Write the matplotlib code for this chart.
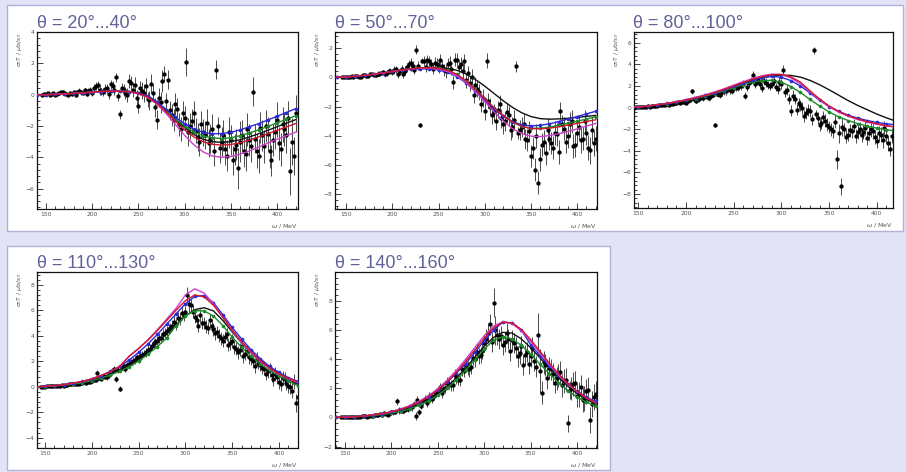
import numpy as np
import matplotlib
matplotlib.use("Agg")
import matplotlib.pyplot as plt
from matplotlib.patches import Rectangle
from matplotlib.ticker import MultipleLocator

W, H = 906, 472

# ---- measured data: photon energy (MeV) and sigma_0 T (mub/sr), two interleaved bin sets ----
omega_a = [146, 150, 154, 158, 162, 166, 170, 174, 178, 182,
           186, 190, 194, 198, 202, 206, 210, 214, 218, 222,
           226, 230, 234, 238, 242, 246, 250, 254, 258, 262,
           266, 270, 274, 278, 282, 286, 290, 294, 298, 302,
           306, 310, 314, 318, 322, 326, 330, 334, 338, 342,
           346, 350, 354, 358, 362, 366, 370, 374, 378, 382,
           386, 390, 394, 398, 402, 406, 410, 414, 418]
omega_b = [148, 152, 156, 160, 164, 168, 172, 176, 180, 184,
           188, 192, 196, 200, 204, 208, 212, 216, 220, 224,
           228, 232, 236, 240, 244, 248, 252, 256, 260, 264,
           268, 272, 276, 280, 284, 288, 292, 296, 300, 304,
           308, 312, 316, 320, 324, 328, 332, 336, 340, 344,
           348, 352, 356, 360, 364, 368, 372, 376, 380, 384,
           388, 392, 396, 400, 404, 408, 412, 416, 420]

data_20_40_a = [0.00, 0.05, -0.02, 0.10, 0.05, 0.15, 0.10, -0.05, 0.05, 0.00,
                0.25, 0.10, 0.05, 0.30, 0.45, 0.60, 0.20, 0.35, 0.05, 0.55,
                1.10, -1.25, 0.30, 0.00, 0.75, 0.60, -0.70, 0.25, 0.55, -0.35,
                0.10, -1.60, -0.50, 1.30, 0.95, -1.30, -0.60, -1.90, -1.20, 2.10,
                -2.00, -1.20, -2.70, -1.90, -2.60, -3.10, -2.20, 1.60, -3.40, -2.60,
                -3.90, -2.90, -3.50, -4.70, -2.60, -3.80, -2.90, 0.20, -3.60, -2.10,
                -3.30, -2.50, -4.20, -2.40, -3.10, -1.90, -2.60, -4.90, -3.90]
data_20_40_b = [0.02, 0.08, 0.05, 0.00, 0.12, 0.20, 0.05, 0.10, 0.15, 0.20,
                0.15, 0.30, 0.25, 0.10, 0.55, 0.30, 0.15, 0.40, 0.65, 0.30,
                -0.10, 0.45, 0.10, 0.85, 0.30, -0.20, 0.40, 0.10, -0.30, 0.70,
                -0.80, -0.20, 0.90, -0.40, -1.00, -1.60, -0.90, -2.20, -1.50, -2.40,
                -1.70, -2.30, -3.00, -2.40, -1.80, -2.80, -3.60, -2.00, -3.00, -3.50,
                -2.40, -4.20, -3.20, -3.00, -3.60, -2.20, -3.30, -2.80, -3.90, -2.60,
                -2.00, -3.60, -2.90, -1.60, -3.50, -2.20, -1.50, -3.00, -1.20]
err_20_40 = [0.08, 0.08, 0.08, 0.10, 0.10, 0.10, 0.10, 0.12, 0.12, 0.12,
             0.15, 0.15, 0.15, 0.20, 0.25, 0.30, 0.25, 0.30, 0.30, 0.35,
             0.30, 0.30, 0.40, 0.45, 0.45, 0.50, 0.45, 0.55, 0.50, 0.60,
             0.60, 0.60, 0.70, 0.50, 0.60, 0.70, 0.70, 0.75, 0.80, 0.90,
             0.80, 0.80, 0.90, 0.85, 0.90, 0.90, 0.95, 0.60, 0.95, 1.00,
             1.00, 0.95, 1.00, 1.30, 1.00, 1.05, 1.00, 0.90, 1.10, 1.00,
             1.05, 1.10, 1.00, 1.10, 1.05, 1.10, 1.10, 1.50, 1.20]

data_50_70_a = [0.00, 0.02, 0.05, 0.00, 0.10, 0.05, 0.15, 0.10, 0.20, 0.15,
                0.25, 0.35, 0.30, 0.40, 0.50, 0.20, 0.60, 0.45, 0.90, 0.80,
                1.90, -3.25, 1.10, 1.20, 0.90, 1.00, 0.70, 0.80, 0.40, 1.00,
                -0.35, 1.20, 0.90, 1.10, 0.30, 0.00, -0.50, -1.00, -1.40, 1.15,
                -2.00, -2.40, -2.20, -2.80, -3.00, -2.60, -3.40, 0.75, -3.60, -3.20,
                -4.30, -5.40, -6.30, -7.20, -4.60, -5.20, -4.20, -4.80, -3.90, -2.30,
                -3.50, -4.00, -3.00, -4.60, -3.40, -4.20, -3.80, -5.00, -4.50]
data_50_70_b = [0.03, 0.00, 0.08, 0.12, 0.05, 0.18, 0.10, 0.22, 0.15, 0.25,
                0.30, 0.20, 0.45, 0.35, 0.55, 0.40, 0.20, 0.70, 1.00, 0.50,
                0.80, 1.15, 0.70, 1.10, 0.60, 0.90, 1.20, 0.50, 0.90, 0.60,
                1.20, 0.70, 0.40, -0.20, -0.40, -1.20, -0.80, -1.80, -2.30, -1.60,
                -2.60, -3.00, -1.80, -3.20, -2.40, -3.60, -2.90, -3.80, -3.40, -4.20,
                -3.70, -4.80, -4.00, -5.60, -4.40, -3.60, -4.50, -3.80, -5.10, -3.20,
                -4.40, -3.20, -4.70, -3.80, -4.30, -3.00, -4.80, -3.60, -4.20]
err_50_70 = [0.08, 0.08, 0.08, 0.10, 0.10, 0.10, 0.12, 0.12, 0.12, 0.15,
             0.15, 0.15, 0.20, 0.20, 0.25, 0.25, 0.25, 0.30, 0.30, 0.30,
             0.30, 0.15, 0.35, 0.35, 0.35, 0.40, 0.40, 0.40, 0.45, 0.45,
             0.45, 0.45, 0.50, 0.50, 0.50, 0.55, 0.55, 0.55, 0.60, 0.50,
             0.60, 0.60, 0.60, 0.65, 0.65, 0.65, 0.70, 0.40, 0.70, 0.70,
             0.75, 0.75, 0.80, 0.80, 0.80, 0.80, 0.75, 0.80, 0.80, 0.60,
             0.80, 0.85, 0.80, 0.85, 0.85, 0.80, 0.85, 0.90, 0.85]

data_80_100_a = [0.00, 0.02, 0.05, 0.05, 0.10, 0.12, 0.15, 0.20, 0.25, 0.25,
                 0.35, 0.40, 0.40, 0.50, 0.60, 1.50, 0.60, 0.80, 0.90, 1.00,
                 1.10, -1.60, 1.30, 1.40, 1.50, 1.60, 1.80, 1.90, 2.00, 1.10,
                 2.30, 3.00, 2.40, 2.20, 2.50, 2.10, 2.20, 1.90, 2.40, 3.50,
                 1.60, -0.30, 0.80, 0.40, 0.00, -0.50, -0.30, 5.30, -1.00, -1.40,
                 -1.20, -1.80, -2.20, -4.80, -7.30, -2.00, -2.50, -2.20, -2.60, -2.00,
                 -2.30, -2.80, -2.00, -2.70, -2.40, -3.00, -2.60, -3.80, -2.90]
data_80_100_b = [0.02, 0.06, 0.08, 0.12, 0.15, 0.18, 0.22, 0.28, 0.30, 0.35,
                 0.40, 0.50, 0.55, 0.45, 0.70, 0.80, 0.75, 0.95, 1.10, 0.90,
                 1.20, 1.30, 1.15, 1.50, 1.70, 1.55, 1.80, 2.00, 2.20, 1.90,
                 2.50, 2.20, 2.60, 1.80, 2.30, 2.00, 2.50, 1.70, 2.20, 1.40,
                 0.80, 1.10, -0.20, 0.20, -0.80, -0.20, -1.10, -0.60, -1.60, -0.90,
                 -1.60, -2.00, -1.30, -2.40, -1.80, -2.70, -2.10, -1.70, -2.30, -2.50,
                 -1.90, -2.40, -2.20, -3.10, -2.50, -1.90, -3.30, -2.60, -3.00]
err_80_100 = [0.08, 0.08, 0.08, 0.10, 0.10, 0.10, 0.10, 0.12, 0.12, 0.12,
              0.15, 0.15, 0.15, 0.20, 0.20, 0.25, 0.20, 0.25, 0.25, 0.25,
              0.25, 0.20, 0.30, 0.30, 0.30, 0.30, 0.30, 0.35, 0.35, 0.35,
              0.35, 0.35, 0.35, 0.40, 0.40, 0.40, 0.40, 0.40, 0.45, 0.40,
              0.45, 0.50, 0.50, 0.50, 0.55, 0.55, 0.55, 0.35, 0.55, 0.55,
              0.60, 0.60, 0.60, 0.90, 0.80, 0.60, 0.60, 0.60, 0.65, 0.65,
              0.65, 0.65, 0.70, 0.65, 0.70, 0.70, 0.70, 0.70, 0.75]

data_110_130_a = [0.00, 0.02, 0.05, 0.05, 0.05, 0.10, 0.10, 0.15, 0.20, 0.25,
                  0.25, 0.30, 0.30, 0.35, 0.50, 1.10, 0.60, 0.80, 0.90, 1.20,
                  0.60, -0.15, 1.60, 1.70, 1.90, 2.10, 2.20, 2.50, 2.70, 3.00,
                  3.40, 3.60, 3.80, 4.20, 4.50, 4.80, 4.90, 5.30, 5.60, 7.20,
                  6.40, 5.50, 4.80, 5.00, 4.70, 5.20, 4.50, 4.30, 3.80, 3.90,
                  3.30, 3.60, 3.00, 2.90, 2.40, 2.80, 2.20, 1.60, 1.90, 1.50,
                  1.00, 1.30, 0.60, 0.80, 0.20, 0.60, 0.10, -0.30, -1.30]
data_110_130_b = [0.02, 0.03, 0.06, 0.08, 0.10, 0.12, 0.15, 0.18, 0.22, 0.25,
                  0.30, 0.35, 0.40, 0.45, 0.55, 0.70, 0.85, 0.75, 1.10, 1.40,
                  1.30, 1.50, 1.40, 1.80, 2.00, 2.30, 2.40, 2.60, 2.90, 3.20,
                  3.50, 3.80, 4.10, 4.40, 4.60, 5.10, 5.40, 5.80, 5.90, 6.50,
                  5.90, 5.20, 5.60, 5.00, 4.60, 4.80, 4.20, 4.00, 3.60, 4.10,
                  3.40, 3.10, 2.70, 3.20, 2.60, 2.30, 2.00, 2.20, 1.70, 1.40,
                  1.20, 0.90, 1.00, 0.40, 0.70, 0.30, 0.00, 0.40, -0.80]
err_110_130 = [0.05, 0.05, 0.05, 0.05, 0.05, 0.08, 0.08, 0.08, 0.10, 0.10,
               0.10, 0.12, 0.12, 0.15, 0.15, 0.20, 0.15, 0.20, 0.20, 0.25,
               0.25, 0.20, 0.25, 0.25, 0.30, 0.30, 0.30, 0.30, 0.35, 0.35,
               0.35, 0.40, 0.40, 0.40, 0.40, 0.45, 0.45, 0.45, 0.45, 0.60,
               0.50, 0.50, 0.50, 0.50, 0.50, 0.50, 0.50, 0.50, 0.50, 0.50,
               0.50, 0.50, 0.50, 0.50, 0.50, 0.50, 0.50, 0.50, 0.50, 0.50,
               0.50, 0.55, 0.55, 0.55, 0.55, 0.55, 0.60, 0.60, 0.70]

data_140_160_a = [0.00, 0.02, 0.00, 0.05, 0.05, 0.05, 0.10, 0.05, 0.10, 0.15,
                  0.20, 0.15, 0.25, 0.30, 0.35, 1.10, 0.45, 0.50, 0.60, 0.70,
                  0.10, 0.40, 1.10, 1.00, 1.40, 1.50, 1.80, 1.70, 2.00, 2.30,
                  2.20, 2.70, 2.60, 3.20, 3.40, 3.50, 4.00, 4.20, 4.60, 5.40,
                  6.40, 7.90, 5.70, 5.60, 5.20, 5.40, 5.30, 4.80, 4.40, 3.60,
                  4.50, 4.20, 3.90, 5.70, 1.70, 3.60, 3.40, 3.00, 2.70, 3.10,
                  2.50, -0.40, 2.00, 2.40, 1.60, 1.20, 1.80, -0.20, 1.40]
data_140_160_b = [0.02, 0.00, 0.04, 0.06, 0.02, 0.08, 0.10, 0.12, 0.08, 0.18,
                  0.22, 0.28, 0.20, 0.35, 0.40, 0.50, 0.45, 0.60, 0.75, 0.90,
                  1.20, 0.80, 1.30, 1.50, 1.30, 1.70, 2.10, 1.90, 2.40, 2.20,
                  2.90, 2.60, 3.30, 3.60, 3.30, 4.10, 4.50, 4.30, 5.10, 5.80,
                  5.20, 6.00, 5.40, 5.00, 5.80, 4.60, 5.10, 4.20, 4.90, 4.30,
                  3.70, 4.80, 3.50, 3.20, 3.80, 2.70, 3.30, 2.40, 2.90, 2.20,
                  2.60, 1.90, 2.30, 1.50, 2.10, 1.30, 1.90, 0.90, 1.60]
err_140_160 = [0.05, 0.05, 0.05, 0.05, 0.05, 0.08, 0.08, 0.08, 0.10, 0.10,
               0.10, 0.12, 0.12, 0.15, 0.15, 0.25, 0.15, 0.20, 0.20, 0.25,
               0.25, 0.20, 0.25, 0.25, 0.30, 0.30, 0.30, 0.35, 0.35, 0.35,
               0.40, 0.40, 0.45, 0.45, 0.50, 0.50, 0.55, 0.55, 0.60, 0.70,
               0.70, 1.00, 0.70, 0.70, 0.70, 0.70, 0.70, 0.70, 0.70, 0.70,
               0.70, 0.70, 0.70, 1.50, 0.80, 0.75, 0.75, 0.75, 0.80, 0.80,
               0.80, 0.60, 0.80, 0.80, 0.85, 0.85, 0.85, 0.90, 0.90]

# ---- model predictions on a 10 MeV grid ----
omega_model = [140, 150, 160, 170, 180, 190, 200, 210, 220, 230,
               240, 250, 260, 270, 280, 290, 300, 310, 320, 330,
               340, 350, 360, 370, 380, 390, 400, 410, 420]

models_20_40 = {
    "black":   [0.00, 0.00, 0.02, 0.05, 0.08, 0.12, 0.16, 0.20, 0.22, 0.22,
                0.20, 0.12, -0.08, -0.45, -0.98, -1.58, -2.10, -2.55, -2.85, -3.00,
                -3.05, -3.00, -2.88, -2.70, -2.50, -2.28, -2.05, -1.82, -1.60],
    "blue":    [0.00, 0.00, 0.02, 0.05, 0.08, 0.12, 0.16, 0.20, 0.22, 0.22,
                0.20, 0.10, -0.10, -0.45, -0.95, -1.45, -1.85, -2.20, -2.40, -2.50,
                -2.48, -2.40, -2.25, -2.05, -1.85, -1.62, -1.38, -1.14, -0.90],
    "green":   [0.00, 0.00, 0.02, 0.05, 0.08, 0.12, 0.16, 0.20, 0.22, 0.22,
                0.20, 0.10, -0.12, -0.50, -1.00, -1.55, -2.00, -2.38, -2.62, -2.76,
                -2.80, -2.75, -2.62, -2.45, -2.25, -2.03, -1.80, -1.58, -1.35],
    "red":     [0.00, 0.00, 0.02, 0.05, 0.08, 0.12, 0.16, 0.20, 0.22, 0.22,
                0.18, 0.08, -0.15, -0.55, -1.10, -1.70, -2.25, -2.70, -3.00, -3.17,
                -3.22, -3.18, -3.07, -2.90, -2.70, -2.50, -2.28, -2.06, -1.85],
    "magenta": [0.00, 0.00, 0.02, 0.05, 0.08, 0.12, 0.16, 0.20, 0.22, 0.22,
                0.18, 0.06, -0.18, -0.60, -1.20, -1.90, -2.60, -3.20, -3.65, -3.92,
                -4.00, -3.95, -3.80, -3.60, -3.35, -3.10, -2.85, -2.62, -2.40],
}
models_50_70 = {
    "black":   [0.00, 0.03, 0.08, 0.14, 0.22, 0.30, 0.40, 0.50, 0.58, 0.64,
                0.68, 0.68, 0.62, 0.48, 0.22, -0.15, -0.60, -1.10, -1.60, -2.05,
                -2.42, -2.68, -2.82, -2.86, -2.84, -2.80, -2.74, -2.67, -2.60],
    "blue":    [0.00, 0.03, 0.08, 0.14, 0.22, 0.30, 0.40, 0.48, 0.55, 0.58,
                0.58, 0.52, 0.35, 0.05, -0.40, -0.95, -1.55, -2.15, -2.65, -3.02,
                -3.25, -3.32, -3.28, -3.18, -3.02, -2.85, -2.68, -2.50, -2.32],
    "green":   [0.00, 0.03, 0.08, 0.14, 0.22, 0.30, 0.40, 0.50, 0.58, 0.64,
                0.66, 0.62, 0.48, 0.20, -0.25, -0.82, -1.45, -2.08, -2.62, -3.05,
                -3.35, -3.48, -3.48, -3.40, -3.28, -3.14, -3.00, -2.85, -2.70],
    "red":     [0.00, 0.03, 0.08, 0.14, 0.22, 0.30, 0.40, 0.50, 0.58, 0.64,
                0.66, 0.62, 0.48, 0.20, -0.25, -0.82, -1.45, -2.08, -2.62, -3.05,
                -3.35, -3.50, -3.52, -3.47, -3.38, -3.27, -3.15, -3.02, -2.90],
    "magenta": [0.00, 0.03, 0.08, 0.14, 0.22, 0.30, 0.40, 0.50, 0.58, 0.62,
                0.62, 0.56, 0.40, 0.10, -0.38, -0.98, -1.65, -2.35, -2.98, -3.50,
                -3.85, -4.02, -4.05, -3.98, -3.85, -3.70, -3.52, -3.33, -3.15],
}
models_80_100 = {
    "black":   [0.00, 0.05, 0.15, 0.25, 0.38, 0.52, 0.70, 0.90, 1.12, 1.38,
                1.65, 1.95, 2.25, 2.52, 2.75, 2.92, 3.00, 2.98, 2.82, 2.52,
                2.12, 1.65, 1.15, 0.65, 0.20, -0.20, -0.60, -0.95, -1.25],
    "blue":    [0.00, 0.05, 0.15, 0.25, 0.38, 0.52, 0.70, 0.90, 1.12, 1.38,
                1.66, 1.96, 2.26, 2.55, 2.78, 2.90, 2.80, 2.50, 2.00, 1.35,
                0.68, 0.10, -0.35, -0.70, -0.98, -1.20, -1.38, -1.50, -1.60],
    "green":   [0.00, 0.05, 0.14, 0.24, 0.36, 0.50, 0.66, 0.84, 1.05, 1.30,
                1.56, 1.85, 2.12, 2.36, 2.50, 2.52, 2.35, 1.95, 1.40, 0.75,
                0.15, -0.40, -0.85, -1.20, -1.48, -1.72, -1.90, -2.05, -2.18],
    "red":     [0.00, 0.05, 0.15, 0.25, 0.38, 0.52, 0.70, 0.90, 1.12, 1.38,
                1.68, 2.00, 2.32, 2.62, 2.88, 3.05, 3.08, 2.85, 2.35, 1.55,
                0.80, 0.15, -0.35, -0.75, -1.05, -1.30, -1.50, -1.67, -1.80],
    "magenta": [0.00, 0.05, 0.15, 0.26, 0.40, 0.55, 0.74, 0.95, 1.18, 1.45,
                1.75, 2.08, 2.40, 2.70, 2.95, 3.10, 3.05, 2.75, 2.20, 1.45,
                0.70, 0.08, -0.42, -0.80, -1.10, -1.35, -1.55, -1.70, -1.82],
}
models_110_130 = {
    "black":   [0.00, 0.03, 0.08, 0.15, 0.25, 0.38, 0.55, 0.75, 1.00, 1.32,
                1.72, 2.20, 2.78, 3.45, 4.15, 4.85, 5.55, 6.05, 6.20, 5.95,
                5.20, 4.30, 3.45, 2.70, 2.05, 1.50, 1.02, 0.60, 0.22],
    "blue":    [0.00, 0.03, 0.09, 0.17, 0.28, 0.42, 0.62, 0.88, 1.20, 1.60,
                2.10, 2.70, 3.35, 4.10, 4.90, 5.72, 6.50, 7.08, 7.15, 6.60,
                5.65, 4.65, 3.75, 2.92, 2.20, 1.60, 1.12, 0.72, 0.42],
    "green":   [0.00, 0.02, 0.06, 0.12, 0.20, 0.32, 0.48, 0.68, 0.92, 1.22,
                1.58, 2.02, 2.55, 3.15, 3.82, 4.80, 5.55, 5.98, 5.95, 5.55,
                4.80, 3.90, 3.10, 2.40, 1.80, 1.28, 0.85, 0.45, 0.10],
    "red":     [0.00, 0.03, 0.09, 0.17, 0.28, 0.42, 0.62, 0.88, 1.20, 1.60,
                2.40, 3.00, 3.65, 4.40, 5.20, 6.00, 6.75, 7.20, 7.05, 6.40,
                5.45, 4.45, 3.55, 2.75, 2.05, 1.48, 1.02, 0.66, 0.40],
    "magenta": [0.00, 0.03, 0.09, 0.17, 0.28, 0.42, 0.62, 0.88, 1.20, 1.60,
                2.40, 3.00, 3.68, 4.48, 5.30, 6.15, 7.20, 7.68, 7.35, 6.50,
                5.45, 4.40, 3.45, 2.65, 1.98, 1.42, 0.98, 0.62, 0.32],
}
models_140_160 = {
    "black":   [0.00, 0.02, 0.04, 0.08, 0.14, 0.22, 0.32, 0.46, 0.65, 0.90,
                1.22, 1.62, 2.12, 2.72, 3.40, 4.15, 4.90, 5.50, 5.85, 5.80,
                5.40, 4.80, 4.10, 3.40, 2.75, 2.15, 1.65, 1.25, 0.92],
    "blue":    [0.00, 0.02, 0.05, 0.10, 0.17, 0.26, 0.38, 0.55, 0.77, 1.05,
                1.42, 1.88, 2.42, 3.05, 3.70, 4.48, 5.28, 6.00, 6.55, 6.50,
                6.00, 5.00, 4.25, 3.55, 2.90, 2.32, 1.80, 1.40, 1.10],
    "green":   [0.00, 0.02, 0.04, 0.08, 0.13, 0.20, 0.30, 0.43, 0.60, 0.84,
                1.15, 1.52, 2.00, 2.58, 3.25, 3.98, 4.70, 5.30, 5.55, 5.40,
                4.95, 4.35, 3.68, 3.02, 2.40, 1.85, 1.40, 1.05, 0.80],
    "red":     [0.00, 0.02, 0.05, 0.10, 0.17, 0.26, 0.38, 0.55, 0.77, 1.05,
                1.42, 1.88, 2.45, 3.10, 3.85, 4.65, 5.45, 6.15, 6.55, 6.50,
                6.05, 5.35, 4.55, 3.75, 3.00, 2.35, 1.80, 1.35, 1.00],
    "magenta": [0.00, 0.02, 0.05, 0.10, 0.17, 0.27, 0.40, 0.58, 0.82, 1.12,
                1.50, 1.98, 2.56, 3.24, 4.00, 4.82, 5.62, 6.28, 6.58, 6.45,
                5.95, 5.22, 4.42, 3.65, 2.92, 2.30, 1.78, 1.35, 1.02],
}

titles = ["θ = 20°...40°", "θ = 50°...70°", "θ = 80°...100°",
          "θ = 110°...130°", "θ = 140°...160°"]
data_a = [data_20_40_a, data_50_70_a, data_80_100_a, data_110_130_a, data_140_160_a]
data_b = [data_20_40_b, data_50_70_b, data_80_100_b, data_110_130_b, data_140_160_b]
err_sets = [err_20_40, err_50_70, err_80_100, err_110_130, err_140_160]
model_sets = [models_20_40, models_50_70, models_80_100, models_110_130, models_140_160]

# ---- layout (pixel boxes: left, top, right, bottom) ----
axes_px = [(37, 32, 298, 209), (335, 32, 597, 209), (634, 32, 893, 208),
           (37, 272, 298, 448), (335, 272, 597, 448)]
xlims = [(140.3, 422.7), (138.0, 421.5), (145.5, 417.0), (141.5, 420.3), (139.2, 421.5)]
ylims = [(-7.3, 4.0), (-9.0, 3.1), (-9.3, 7.0), (-4.8, 9.0), (-2.1, 10.0)]
yticks = [range(-6, 5, 2), range(-8, 3, 2), range(-8, 7, 2), range(-4, 9, 2), range(-2, 9, 2)]
title_xy = [(37, 28), (335, 28), (633, 28), (37, 268), (335, 268)]

line_colors = {"black": "#111111", "blue": "#2a2ad8", "green": "#1d8a2a",
               "red": "#d0142c", "magenta": "#cc3fcc"}
draw_order = ["black", "green", "blue", "magenta", "red"]

bg = "#e3e3f7"
frame = "#b2b2d8"
title_col = "#62629a"
tick_col = "#555555"


def rect(l, t, r, b):
    return [l / W, 1 - b / H, (r - l) / W, (b - t) / H]


fig = plt.figure(figsize=(W / 100, H / 100), dpi=100, facecolor=bg)

# white slide boxes
for (l, t, r, b) in [(7, 5, 903, 231), (7, 246, 610, 470)]:
    fig.patches.append(Rectangle((l / W, 1 - b / H), (r - l) / W, (b - t) / H,
                                 transform=fig.transFigure, facecolor="white",
                                 edgecolor=frame, linewidth=1.0, zorder=-5))

for i in range(5):
    ax = fig.add_axes(rect(*axes_px[i]))
    ax.set_zorder(2)
    for xs, ys in ((omega_a, data_a[i]), (omega_b, data_b[i])):
        ax.errorbar(xs, ys, yerr=err_sets[i], fmt="o", ms=2.1,
                    color="black", ecolor="#4a4a4a", elinewidth=0.7, capsize=0,
                    zorder=2)
    for name in draw_order:
        kw = {}
        if name in ("green", "blue"):
            kw = dict(marker="o", ms=1.6)
        ax.plot(omega_model, model_sets[i][name], color=line_colors[name],
                lw=1.0, zorder=3, **kw)

    ax.set_xlim(*xlims[i])
    ax.set_ylim(*ylims[i])
    ax.set_xticks([150, 200, 250, 300, 350, 400])
    ax.xaxis.set_minor_locator(MultipleLocator(10))
    ax.set_yticks(list(yticks[i]))
    ax.yaxis.set_minor_locator(MultipleLocator(0.4))
    ax.tick_params(which="both", direction="in", top=False, right=False,
                   labelsize=4.3, labelcolor=tick_col, color="#222222", width=0.6)
    ax.tick_params(which="major", length=4.5, pad=2)
    ax.tick_params(which="minor", length=2.2)
    for s in ax.spines.values():
        s.set_linewidth(0.9)
        s.set_color("#111111")

    ax.text(-0.068, 1.0, r"$\sigma_0$T / $\mu$b/sr", rotation=90, ha="center",
            va="top", transform=ax.transAxes, fontsize=4.5, color=tick_col)
    ax.text(1.0, -0.075, r"$\omega$ / MeV", ha="right", va="top",
            transform=ax.transAxes, fontsize=4.5, color=tick_col)

    tx, ty = title_xy[i]
    fig.text(tx / W, 1 - ty / H, titles[i], fontsize=13, color=title_col,
             family="Liberation Sans", ha="left", va="baseline", zorder=3)

fig.savefig("out.png", dpi=100, facecolor=bg)
